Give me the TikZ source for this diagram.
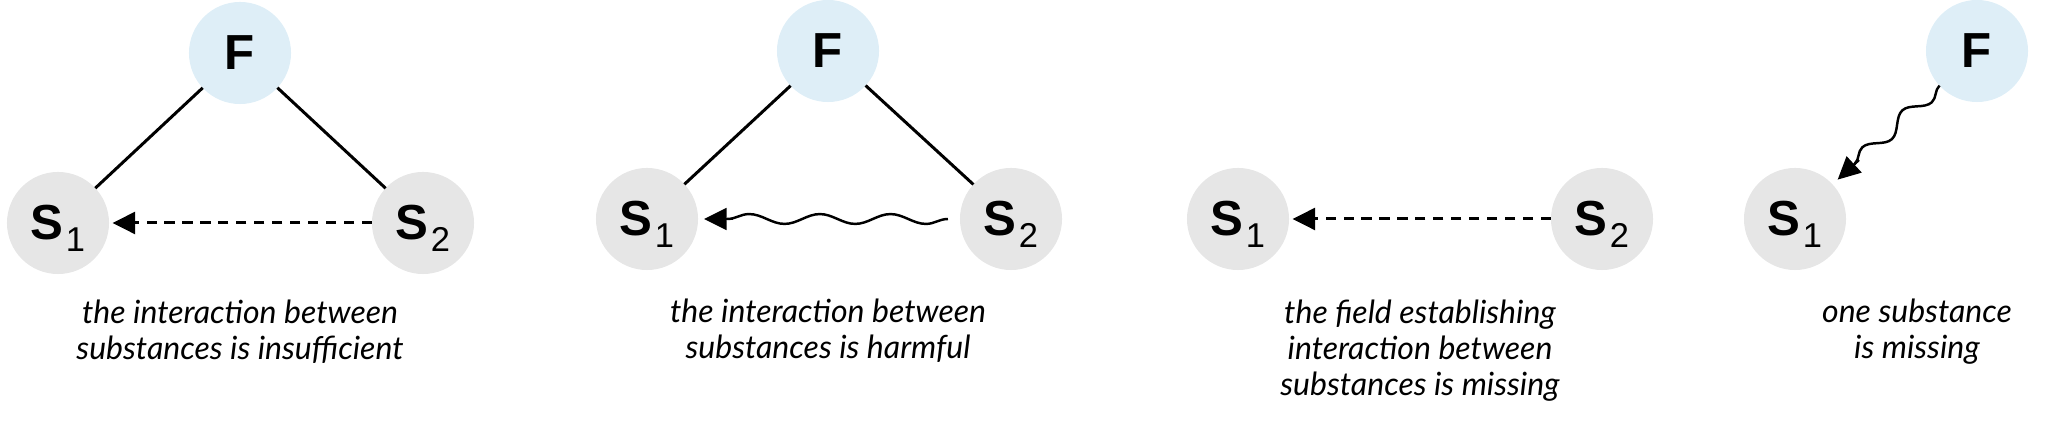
\documentclass[tikz,border=0pt]{standalone}
\usepackage{fontspec}
\setmainfont{Liberation Sans}
\newfontfamily\capfont{Lato}
\usetikzlibrary{arrows.meta,decorations.pathmorphing,calc}
\definecolor{fblue}{RGB}{222,238,247}
\definecolor{sgrey}{RGB}{230,230,230}
\newcommand\lowidx[1]{\kern0.6pt\raisebox{-3.4pt}[0pt][0pt]{\fontsize{9.8}{10}\selectfont\mdseries #1}}
\begin{document}
\begin{tikzpicture}[x=0.01cm,y=-0.01cm,
  ball/.style={circle,inner sep=0pt,outer sep=0pt,minimum size=1.02cm,font=\fontsize{14}{14}\selectfont\bfseries},
  fball/.style={ball,fill=fblue},
  sball/.style={ball,fill=sgrey},
  link/.style={line width=0.85pt},
  tip/.style={-{Triangle[length=6.4pt,width=6.2pt]}},
  weak/.style={tip,line width=0.85pt,dash pattern=on 2.9pt off 2.2pt,shorten >=1pt},
  wave/.style={line width=0.7pt,decorate,decoration={snake,amplitude=1.4pt,segment length=20.1pt}},
  wavetip/.style={tip,line width=0.7pt},
  caption/.style={font=\capfont\itshape\fontsize{9.1}{10.3}\selectfont,align=center,anchor=base,inner sep=0pt}]
\useasboundingbox (0,0) rectangle (2048,425);
% panel 1
\node[fball] (F1) at (240,53) {F};
\node[sball] (A1) at (58,223) {S\lowidx{1}};
\node[sball] (B1) at (423,223) {S\lowidx{2}};
\draw[link] (F1) -- (A1);
\draw[link] (F1) -- (B1);
\draw[weak] (B1) -- (A1);
\node[caption] (C1) at (240,360) {the interaction between\\substances is insufficient};
% panel 2
\node[fball] (F2) at (828,51) {F};
\node[sball] (A2) at (647,219) {S\lowidx{1}};
\node[sball] (B2) at (1011,219) {S\lowidx{2}};
\draw[link] (F2) -- (A2);
\draw[link] (F2) -- (B2);
\draw[wave] ($(B2)!0.63cm!(A2)$) -- ($(A2)!0.80cm!(B2)$);
\draw[wavetip] ($(A2)!0.86cm!(B2)$) -- ($(A2)!0.57cm!(B2)$);
\node[caption] (C2) at (828,359) {the interaction between\\substances is harmful};
% panel 3
\node[sball] (A3) at (1238,219) {S\lowidx{1}};
\node[sball] (B3) at (1602,219) {S\lowidx{2}};
\draw[weak] (B3) -- (A3);
\node[caption] (C3) at (1420,396) {the field establishing\\interaction between\\substances is missing};
% panel 4
\node[fball] (F4) at (1977,51) {F};
\node[sball] (A4) at (1795,219) {S\lowidx{1}};
\draw[wave,decoration={snake,amplitude=2pt,segment length=15.45pt}] ($(F4)!0.51cm!(A4)$) -- ($(A4)!0.81cm!(F4)$);
\draw[wavetip] ($(A4)!0.87cm!(F4)$) -- ($(A4)!0.58cm!(F4)$);
\node[caption] (C4) at (1917,359) {one substance\\is missing};
\end{tikzpicture}
\end{document}
